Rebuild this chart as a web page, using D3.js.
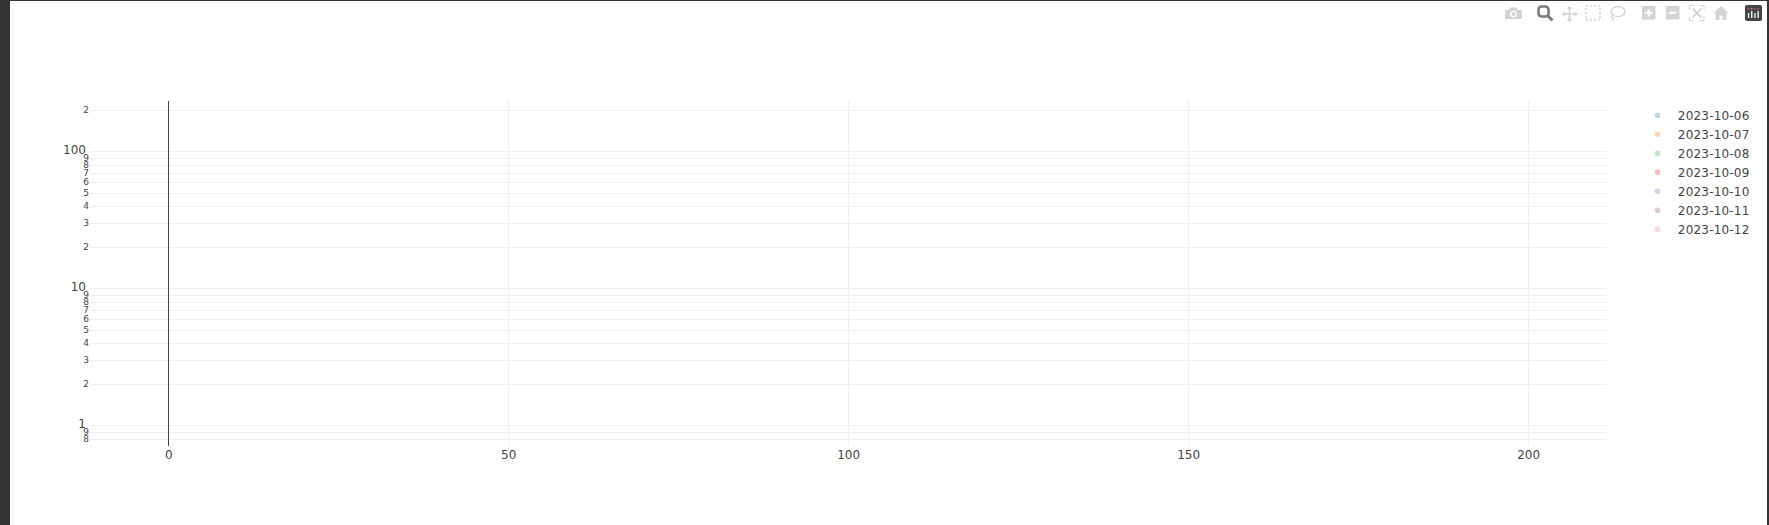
<!DOCTYPE html>
<html>
<head>
<meta charset="utf-8">
<script src="https://cdn.jsdelivr.net/npm/d3@7/dist/d3.min.js"></script>
<style>
html,body{margin:0;padding:0;background:#fff;overflow:hidden}
svg{display:block}
text{font-family:"DejaVu Sans",Verdana,sans-serif;fill:#444}
</style>
</head>
<body>
<svg id="chart" width="1769" height="525"></svg>
<script>
const seriesNames = ["2023-10-06","2023-10-07","2023-10-08","2023-10-09","2023-10-10","2023-10-11","2023-10-12"];
const seriesColors = ["#1f77b4","#ff7f0e","#2ca02c","#d62728","#9467bd","#8c564b","#e377c2"];
const xTicks = [0,50,100,150,200];
const yTicks = [0.8,0.9,1,2,3,4,5,6,7,8,9,10,20,30,40,50,60,70,80,90,100,200];
const yMajor = [1,10,100];
const yMinorLabel = v => String(+(v / Math.pow(10, Math.floor(Math.log10(v) + 1e-9))).toFixed(0));
const xDomain = [-11.5, 211.6];
const yDomain = [0.7122, 232.8];

const svg = d3.select("#chart");
const W = 1769, H = 525;
const plot = {left: 90, right: 1607, top: 101, bottom: 445.5};

// page frame
svg.append("rect").attr("x",0).attr("y",0).attr("width",10).attr("height",H).attr("fill","#333");
svg.append("rect").attr("x",0).attr("y",0).attr("width",W).attr("height",1).attr("fill","#333");
svg.append("rect").attr("x",1767).attr("y",0).attr("width",2).attr("height",H).attr("fill","#333");

const x = d3.scaleLinear().domain(xDomain).range([plot.left, plot.right]);
const y = d3.scaleLog().domain(yDomain).range([plot.bottom, plot.top]);

// x grid + labels
const gx = svg.append("g").attr("transform",`translate(0,${plot.bottom})`)
  .call(d3.axisBottom(x).tickValues(xTicks).tickFormat(d3.format("d")).tickSize(-(plot.bottom-plot.top)).tickPadding(5));
gx.select(".domain").remove();
gx.selectAll("line").attr("stroke","#eee").attr("stroke-width",1).attr("shape-rendering","crispEdges");
gx.selectAll("text").attr("font-size",12).attr("fill","#444");

// y grid + labels
const gy = svg.append("g").attr("transform",`translate(${plot.left},0)`)
  .call(d3.axisLeft(y).tickValues(yTicks).tickSize(0).tickPadding(0)
    .tickFormat(v => yMajor.includes(v) ? String(v) : yMinorLabel(v)));
gy.select(".domain").remove();
gy.selectAll(".tick line").attr("x1",0).attr("x2",plot.right-plot.left)
  .attr("stroke","#eee").attr("stroke-width",1).attr("shape-rendering","crispEdges");
gy.selectAll(".tick text")
  .attr("x", d => yMajor.includes(d) ? -4 : -1)
  .attr("dy", d => yMajor.includes(d) ? "0.2em" : "0.28em")
  .attr("font-size", d => yMajor.includes(d) ? 12 : 9)
  .attr("fill","#444");

// zero line
svg.append("line").attr("x1",x(0)).attr("x2",x(0)).attr("y1",plot.top).attr("y2",plot.bottom)
  .attr("stroke","#444").attr("stroke-width",1).attr("shape-rendering","crispEdges");

// legend
const legend = svg.append("g").selectAll("g").data(seriesNames).join("g")
  .attr("transform",(d,i)=>`translate(1657.5,${115.3+i*19})`);
legend.append("circle").attr("r",2.8).attr("fill",(d,i)=>seriesColors[i]).attr("opacity",0.3);
legend.append("text").attr("x",20.3).attr("y",4.4).attr("font-size",12).attr("letter-spacing","0.2px").attr("fill","#444").text(d=>d);

// modebar
const mb = svg.append("g");
const g1 = "#d4d4d4";
// camera
const cam = mb.append("g").attr("fill",g1);
cam.append("path").attr("d","M1505 10h4l1.5-2.5h6l1.5 2.5h4v9h-17z");
cam.append("circle").attr("cx",1513.5).attr("cy",14).attr("r",3.4).attr("fill","#fff");
cam.append("circle").attr("cx",1513.5).attr("cy",14).attr("r",2).attr("fill",g1);
// magnifier (active)
const zm = mb.append("g").attr("stroke","#7a7a7a").attr("fill","none");
zm.append("rect").attr("x",1538.5).attr("y",6.5).attr("width",10).attr("height",10).attr("rx",3).attr("stroke-width",2.6);
zm.append("line").attr("x1",1548).attr("y1",16).attr("x2",1552.5).attr("y2",20.5).attr("stroke-width",3);
// pan
mb.append("path").attr("d","M1569.5 7v14M1562.5 14h14.5").attr("stroke",g1).attr("stroke-width",1.6);
mb.append("path").attr("d","M1569.5 5.5l-2.6 3.5h5.2zM1569.5 22.5l-2.6-3.5h5.2zM1561.5 14l3.5-2.6v5.2zM1578 14l-3.5-2.6v5.2z").attr("fill",g1);
// box select
mb.append("rect").attr("x",1586).attr("y",6).attr("width",14).attr("height",14).attr("fill","none")
  .attr("stroke",g1).attr("stroke-width",1.6).attr("stroke-dasharray","2 2");
// lasso
mb.append("ellipse").attr("cx",1618).attr("cy",11.5).attr("rx",7).attr("ry",5).attr("fill","none").attr("stroke",g1).attr("stroke-width",1.4);
mb.append("path").attr("d","M1612.5 15c-1 2 0 3 1 3.5l-1 2").attr("fill","none").attr("stroke",g1).attr("stroke-width",1.4);
// plus
mb.append("rect").attr("x",1642).attr("y",6).attr("width",13.5).attr("height",13.5).attr("rx",1).attr("fill",g1);
mb.append("path").attr("d","M1648.75 9v7.5M1645 12.75h7.5").attr("stroke","#fff").attr("stroke-width",2.2);
// minus
mb.append("rect").attr("x",1666).attr("y",6).attr("width",13.5).attr("height",13.5).attr("rx",1).attr("fill",g1);
mb.append("path").attr("d","M1669 12.75h7.5").attr("stroke","#fff").attr("stroke-width",2.2);
// autoscale
mb.append("path").attr("d","M1689.5 10v-4.5h4M1700 5.5h4v4.5M1704 16.5v4h-4M1693.5 20.5h-4v-4").attr("fill","none").attr("stroke",g1).attr("stroke-width",1);
mb.append("path").attr("d","M1692.5 8.5l4.5 4.5 4.5-4.5M1692.5 17.5l4.5-4.5 4.5 4.5").attr("fill","none").attr("stroke",g1).attr("stroke-width",1.8);
// home
mb.append("path").attr("d","M1721 6l7.5 7h-2v7h-4v-4.5h-3v4.5h-4v-7h-2z").attr("fill",g1);
// plotly logo
mb.append("rect").attr("x",1745).attr("y",5).attr("width",17).attr("height",16).attr("rx",2).attr("fill","#444");
const logoCols = [1748.5,1751.7,1754.9,1758.1];
mb.selectAll(".logo-bar").data(logoCols).join("rect").attr("class","logo-bar")
  .attr("x",d=>d-0.6).attr("y",(d,i)=>i%2?11:13).attr("width",1.3).attr("height",(d,i)=>i%2?7:5).attr("fill","#fff");
mb.selectAll(".logo-dot").data(logoCols).join("rect").attr("class","logo-dot")
  .attr("x",d=>d-0.7).attr("y",8).attr("width",1.4).attr("height",1.6).attr("fill",(d,i)=>["#e0567c","#f27a9a","#d94f8a","#c85a9c"][i]);
</script>
</body>
</html>
